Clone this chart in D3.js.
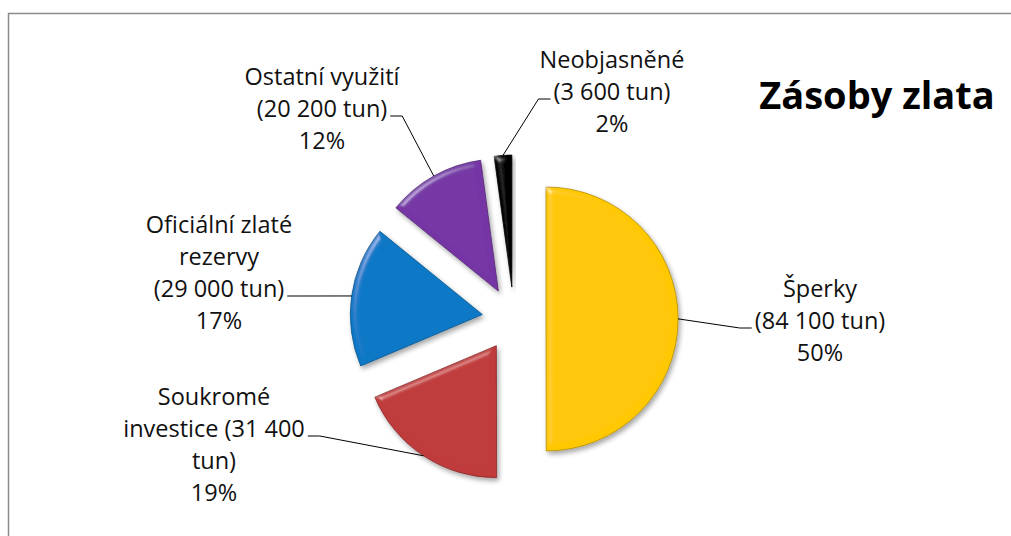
<!DOCTYPE html>
<html>
<head>
<meta charset="utf-8">
<script src="https://cdn.jsdelivr.net/npm/d3@7"></script>
<style>
	body { margin: 0; background: #fff; overflow: hidden; }
	svg { display: block; }
	text { font-family: 'Open Sans', 'DejaVu Sans', sans-serif; }
</style>
</head>
<body>
<div id="chart"></div>
<script>
// data
var categories = [ 'Šperky', 'Soukromé investice', 'Oficiální zlaté rezervy', 'Ostatní využití', 'Neobjasněné' ];
var tonnes = [ 84100, 31400, 29000, 20200, 3600 ];
var colors = [ '#ffc805', '#c03b3b', '#0b78c6', '#7536a4', '#050505' ];
var title = 'Zásoby zlata';

// label layout (text centre, first baseline, wrap width, line the leader hooks to)
var labelX = [ 820, 214, 219, 322, 612 ];
var labelY = [ 297, 405, 233, 85, 68 ];
var labelWrap = [ 138, 200, 150, 160, 145 ];
var hookLine = [ 1, 1, 2, 1, 1 ];

var width = 1011;
var height = 536;
var cx = 514;
var cy = 319;
var radius = 132;
var explode = 32;
var lineHeight = 32;

var svg = d3.select('#chart').append('svg').attr('width', width).attr('height', height);

// frame (only top and left edges are inside the picture)
svg
	.append('path')
	.attr('d', d3.line()([ [ 8.5, height + 5 ], [ 8.5, 13.5 ], [ width + 5, 13.5 ] ]))
	.attr('fill', 'none')
	.attr('stroke', '#8c8c8c')
	.attr('stroke-width', 1.5);

// bevel + shadow filter
var defs = svg.append('defs');
var f = defs.append('filter').attr('id', 'bevel').attr('x', '-10%').attr('y', '-10%').attr('width', '130%').attr('height', '130%');
f.append('feGaussianBlur').attr('in', 'SourceAlpha').attr('stdDeviation', 3).attr('result', 'blur');
var spec = f
	.append('feSpecularLighting')
	.attr('in', 'blur')
	.attr('surfaceScale', 4)
	.attr('specularConstant', 0.6)
	.attr('specularExponent', 40)
	.attr('lighting-color', '#ffffff')
	.attr('result', 'spec');
spec.append('feDistantLight').attr('azimuth', 225).attr('elevation', 35);
f.append('feComposite').attr('in', 'spec').attr('in2', 'SourceAlpha').attr('operator', 'in').attr('result', 'specIn');
f
	.append('feComposite')
	.attr('in', 'SourceGraphic')
	.attr('in2', 'specIn')
	.attr('operator', 'arithmetic')
	.attr('k1', 0)
	.attr('k2', 1)
	.attr('k3', 0.5)
	.attr('k4', 0)
	.attr('result', 'lit');
f.append('feOffset').attr('in', 'SourceAlpha').attr('dx', 2).attr('dy', 3).attr('result', 'off');
f.append('feGaussianBlur').attr('in', 'off').attr('stdDeviation', 2.5).attr('result', 'shBlur');
f.append('feComponentTransfer').attr('in', 'shBlur').attr('result', 'shadow').append('feFuncA').attr('type', 'linear').attr('slope', 0.35);
var merge = f.append('feMerge');
merge.append('feMergeNode').attr('in', 'shadow');
merge.append('feMergeNode').attr('in', 'lit');

var data = categories.map((c, i) => ({ name: c, value: tonnes[i], i: i }));
var total = d3.sum(tonnes);

var pie = d3.pie().sort(null).value((d) => d.value);
var arcs = pie(data);
var arc = d3.arc().innerRadius(0).outerRadius(radius);

// offset of each exploded slice
var shift = (a) => {
	var m = (a.startAngle + a.endAngle) / 2;
	return [ Math.sin(m) * explode, -Math.cos(m) * explode ];
};

var g = svg.append('g').attr('transform', `translate(${cx},${cy})`);

g
	.selectAll('path.slice')
	.data(arcs)
	.enter()
	.append('path')
	.attr('class', 'slice')
	.attr('d', arc)
	.attr('transform', (d) => `translate(${shift(d)})`)
	.attr('fill', (d) => colors[d.data.i])
	.attr('stroke', (d) => d3.color(colors[d.data.i]).darker(1))
	.attr('stroke-width', 0.8)
	.attr('filter', 'url(#bevel)');

// labels
var locale = d3.formatLocale({ decimal: ',', thousands: '\u00a0', grouping: [ 3 ], currency: [ '', ' Kč' ] });
var fmtNum = locale.format(',d');
var fmtPct = d3.format('.0%');

var labels = svg.append('g').attr('font-size', 23.5).attr('fill', '#111');

arcs.forEach((a) => {
	var i = a.data.i;
	var words = (a.data.name + ' (' + fmtNum(a.data.value) + ' tun)').split(' ');
	var lines = [];
	var cur = '';
	var probe = labels.append('text');
	words.forEach((w) => {
		var test = cur ? cur + ' ' + w : w;
		probe.text(test);
		if (cur && probe.node().getComputedTextLength() > labelWrap[i]) {
			lines.push(cur);
			cur = w;
		} else {
			cur = test;
		}
	});
	lines.push(cur);
	probe.remove();
	lines.push(fmtPct(a.data.value / total));

	var t = labels.append('text').attr('text-anchor', 'middle');
	var spans = lines.map((l, k) =>
		t.append('tspan').attr('x', labelX[i]).attr('y', labelY[i] + k * lineHeight).text(l)
	);

	// leader line: from slice's outer edge to the hooked text line
	var s = shift(a);
	var m = (a.startAngle + a.endAngle) / 2;
	var px = cx + s[0] + Math.sin(m) * radius;
	var py = cy + s[1] - Math.cos(m) * radius;
	var lw = spans[hookLine[i]].node().getComputedTextLength();
	var ly = labelY[i] + hookLine[i] * lineHeight - 1;
	var side = px > labelX[i] ? 1 : -1;
	var x0 = labelX[i] + side * (lw / 2 + 3);
	var x1 = x0 + side * 12;
	svg
		.append('path')
		.attr('d', d3.line()([ [ x0, ly ], [ x1, ly ], [ px, py ] ]))
		.attr('fill', 'none')
		.attr('stroke', '#000')
		.attr('stroke-width', 1);
});

// title
svg
	.append('text')
	.attr('x', 877)
	.attr('y', 109)
	.attr('text-anchor', 'middle')
	.attr('font-size', 38)
	.attr('font-weight', 'bold')
	.attr('fill', '#000')
	.text(title);
</script>
</body>
</html>
